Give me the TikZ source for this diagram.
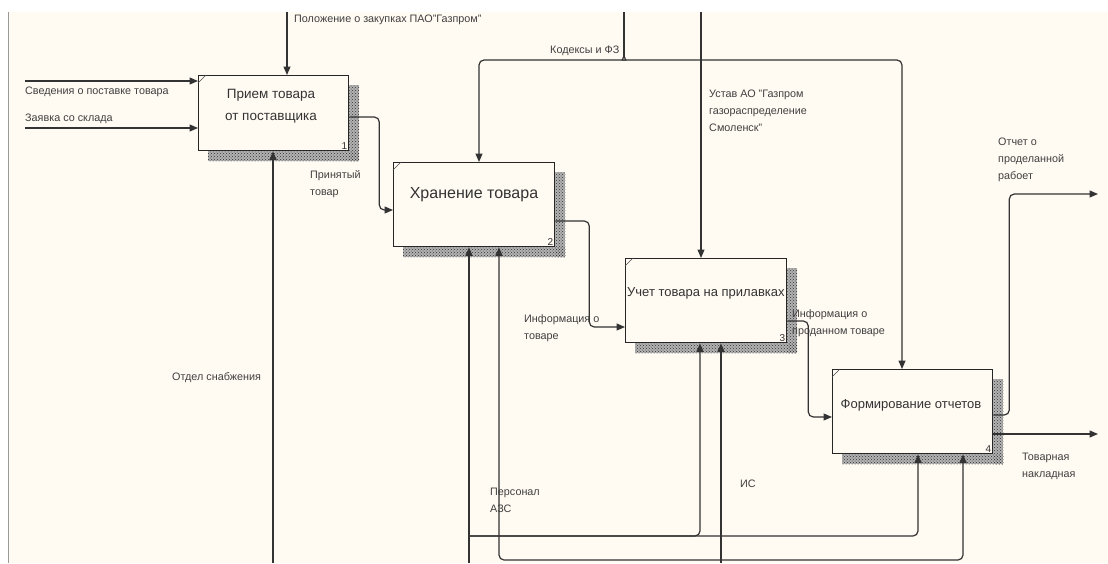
\documentclass[tikz,border=0pt]{standalone}
\usepackage{fontspec}
\setmainfont{Liberation Sans}
\usetikzlibrary{arrows.meta,patterns,calc,backgrounds}
\definecolor{cream}{HTML}{FFFAF2}
\definecolor{ink}{HTML}{333333}
\begin{document}
\begin{tikzpicture}[x=1pt,y=-1pt,
  box/.style={draw=black!85, line width=1.3pt, fill=cream, anchor=north west, inner sep=0pt},
  ln/.style={draw=ink, line width=1.2pt},
  arr/.style={ln, -{Triangle[length=8.5pt,width=7pt]}},
  rc/.style={rounded corners=5pt},
  lab/.style={font=\fontsize{10.8}{17}\selectfont, text=black!75, inner sep=0pt, align=left},
  btxt/.style={text=black!80, inner sep=0pt, align=center},
  num/.style={font=\fontsize{10}{12}\selectfont, text=black!80, anchor=south east, inner sep=2pt},
  shad/.style={pattern=crosshatch dots, pattern color=black!80},
  corner/.style={draw=black!70, line width=0.5pt}
]
\useasboundingbox (0,0) rectangle (1108,563);

% boxes
\node[box, minimum width=150pt, minimum height=75pt] (b1) at (198,75) {};
\node[box, minimum width=161pt, minimum height=84pt] (b2) at (393,162) {};
\node[box, minimum width=161pt, minimum height=84pt] (b3) at (625,258) {};
\node[box, minimum width=160pt, minimum height=84pt] (b4) at (832,369) {};

\begin{scope}[on background layer]
  \fill[white] (0,0) rectangle (1108,563);
  \fill[cream] (8,12) rectangle (1108,563);
  \draw[black!40, line width=1pt] (8,12) -- (8,563);
  \foreach \b in {b1,b2,b3,b4}{
    \fill[black!30] ($(\b.north east)+(0,10)$) rectangle ($(\b.south east)+(10,10)$);
    \fill[black!30] ($(\b.south west)+(10,0)$) rectangle ($(\b.south east)+(10,10)$);
    \fill[shad] ($(\b.north east)+(0,10)$) rectangle ($(\b.south east)+(10,10)$);
    \fill[shad] ($(\b.south west)+(10,0)$) rectangle ($(\b.south east)+(10,10)$);
  }
\end{scope}

\foreach \b in {b1,b2,b3,b4}{
  \draw[corner] ($(\b.north west)+(0,8)$) -- ($(\b.north west)+(8,0)$);
}

% box texts
\node[btxt, font=\fontsize{13.5}{22}\selectfont] (t1) at (271,106) {Прием товара\\от поставщика};
\node[btxt, font=\fontsize{16}{18}\selectfont] (t2) at (474,195) {Хранение товара};
\node[btxt, font=\fontsize{13}{15}\selectfont, anchor=west] (t3) at (627,293) {Учет товара на прилавках};
\node[btxt, font=\fontsize{13}{15}\selectfont] (t4) at (911,405) {Формирование отчетов};
\node[num] (n1) at (b1.south east) {1};
\node[num] (n2) at (b2.south east) {2};
\node[num] (n3) at (b3.south east) {3};
\node[num] (n4) at (b4.south east) {4};

% labels
\node[lab, anchor=west] (lpol) at (294,20) {Положение о закупках ПАО"Газпром"};
\node[lab, anchor=west] (lsv) at (25,92) {Сведения о поставке товара};
\node[lab, anchor=west] (lzay) at (25,119) {Заявка со склада};
\node[lab, anchor=west] (lprin) at (310,184) {Принятый\\товар};
\node[lab, anchor=west] (lotd) at (172,378) {Отдел снабжения};
\node[lab, anchor=west] (lkod) at (550,51) {Кодексы и ФЗ};
\node[lab, anchor=west] (lust) at (709,111) {Устав АО "Газпром\\газораспределение\\Смоленск"};
\node[lab, anchor=west] (linf1) at (524,328) {Информация о\\товаре};
\node[lab, anchor=west] (linf2) at (792,323) {Информация о\\проданном товаре};
\node[lab, anchor=west] (lotch) at (998,160) {Отчет о\\проделанной\\рабоет};
\node[lab, anchor=west] (ltov) at (1022,466) {Товарная\\накладная};
\node[lab, anchor=west] (lpers) at (490,500) {Персонал\\АЗС};
\node[lab, anchor=west] (lis) at (740,484) {ИС};

% free ends
\coordinate (polTop) at (287,12);
\coordinate (kodTop) at (624,12);
\coordinate (kodJ) at (624,56);
\coordinate (ustTop) at (701,12);
\coordinate (svL) at (25,81);
\coordinate (zayL) at (25,128);
\coordinate (otdB) at (273,563);
\coordinate (persB) at (469,563);
\coordinate (persJ) at (469,536);
\coordinate (isB) at (721,563);
\coordinate (isJ) at (721,560);
\coordinate (out1) at (1098,194);
\coordinate (out2) at (1098,434);

% controls
\draw[arr] (polTop) -- (polTop |- b1.north);
\draw[ln] (kodTop) -- (kodJ);
\draw[arr, rc] (kodJ) to[out=270,in=0] (618,60) -| ($(b2.north west)+(86,0)$);
\draw[arr, rc] (kodJ) to[out=270,in=180] (630,60) -| ($(b4.north west)+(70,0)$);
\draw[arr] (ustTop) -- (ustTop |- b3.north);

% inputs
\draw[arr] (svL) -- (svL -| b1.west);
\draw[arr] (zayL) -- (zayL -| b1.west);

% outputs between boxes
\draw[arr, rc] ($(b1.north east)+(0,42)$) -- ++(30,0) |- ($(b2.north west)+(0,48)$);
\draw[arr, rc] ($(b2.north east)+(0,59)$) -- ++(34,0) |- ($(b3.north west)+(0,69)$);
\draw[arr, rc] ($(b3.north east)+(0,63)$) -- ++(21,0) |- ($(b4.north west)+(0,48)$);
\draw[arr, rc] ($(b4.north east)+(0,46)$) -- ++(16,0) |- (out1);
\draw[arr] ($(b4.north east)+(0,65)$) -- (out2);

% mechanisms
\draw[arr] (otdB) -- (otdB |- b1.south);
\draw[arr] (persB) -- (persB |- b2.south);
\draw[arr, rc] (persJ) -| ($(b3.south west)+(75,0)$);
\draw[arr, rc] (persJ) -| ($(b4.south west)+(86,0)$);
\draw[arr] (isB) -- (isB |- b3.south);
\draw[arr, rc] (isJ) -| ($(b2.south west)+(106,0)$);
\draw[arr, rc] (isJ) -| ($(b4.south west)+(131,0)$);
\end{tikzpicture}
\end{document}
